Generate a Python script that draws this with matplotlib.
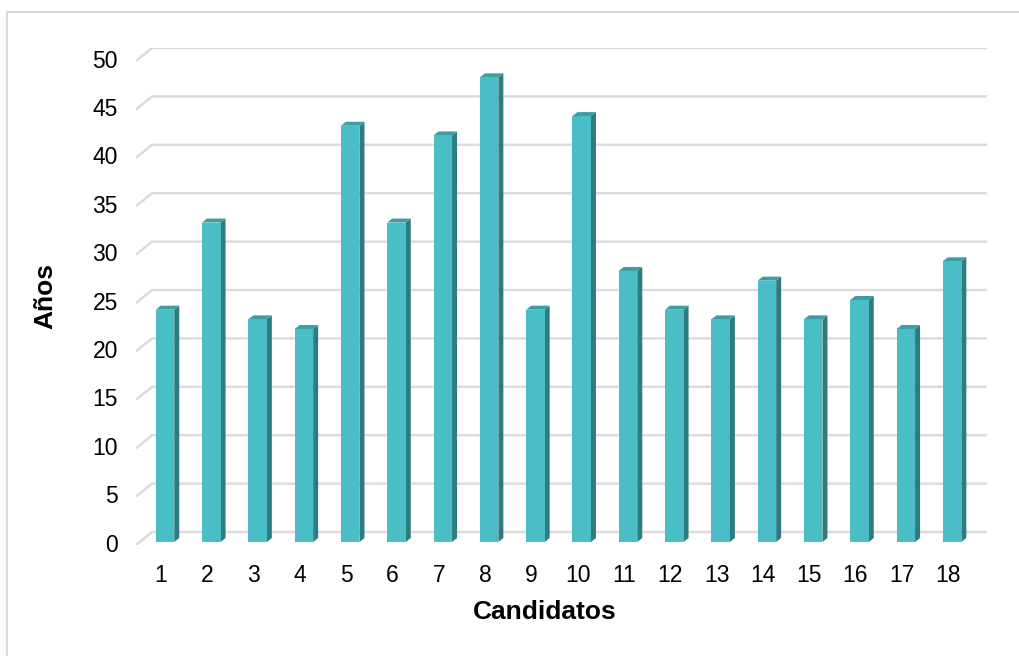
import numpy as np
import matplotlib.pyplot as plt
from matplotlib.patches import Polygon, Rectangle
from matplotlib.lines import Line2D

plt.rcParams['font.family'] = ['Liberation Sans', 'DejaVu Sans']

# Data
candidates = list(range(1, 19))
ages = [24, 33, 23, 22, 43, 33, 42, 48, 24, 44, 28, 24, 23, 27, 23, 25, 22, 29]
y_ticks = list(range(0, 51, 5))

W, H = 1019, 656
fig = plt.figure(figsize=(W / 100, H / 100), dpi=100)

# pixel geometry of the plot (front plane)
left_px, right_px, top_px, bottom_px = 136, 987, 48, 545
ax = fig.add_axes([left_px / W, 1 - bottom_px / H,
                   (right_px - left_px) / W, (bottom_px - top_px) / H])

px_x = 46.3   # pixels per category
px_y = 9.68   # pixels per unit
x0 = 1 - (165 - left_px) / px_x
x1 = x0 + (right_px - left_px) / px_x
y0 = -(bottom_px - 542) / px_y
y1 = y0 + (bottom_px - top_px) / px_y
ax.set_xlim(x0, x1)
ax.set_ylim(y0, y1)
ax.axis('off')

grid_c = '#dcdcdc'
# back wall gridlines with a slanted floor edge
for v in y_ticks:
    xs = [x0, x0 + 16 / px_x, x1]
    ys = [v - 3 / px_y, v + 10 / px_y, v + 10 / px_y]
    ax.plot(xs, ys, color=grid_c, lw=1.8, solid_capstyle='butt', zorder=1)
    ax.text(x0 - 18 / px_x, v - 3 / px_y, str(v), ha='right', va='center',
            fontsize=16.5, color='#000000')

# 3D-ish bars
front_c = '#4abec6'
side_c = '#2e7c81'
top_c = '#3a9ea4'
bw = 0.4
dx, dy = 5 / px_x, 4 / px_y
for c, a in zip(candidates, ages):
    xl, xr = c - bw / 2, c + bw / 2
    ax.add_patch(Polygon([(xr, 0), (xr + dx, dy), (xr + dx, a + dy), (xr, a)],
                         closed=True, facecolor=side_c, edgecolor='none', zorder=3))
    ax.add_patch(Polygon([(xl, a), (xl + dx, a + dy), (xr + dx, a + dy), (xr, a)],
                         closed=True, facecolor=top_c, edgecolor='none', zorder=3))
    ax.add_patch(Rectangle((xl, 0), bw, a, facecolor=front_c, edgecolor='none', zorder=4))
    ax.text(c - 4 / px_x, y0 - 30 / px_y, str(c), ha='center', va='center',
            fontsize=16.5, color='#000000')

fig.text(545 / W, 1 - 612 / H, 'Candidatos', ha='center', va='center',
         fontsize=19, fontweight='bold')
fig.text(45 / W, 1 - 296 / H, 'Años', ha='center', va='center', rotation=90,
         fontsize=19, fontweight='bold')

# outer chart border
fig.add_artist(Line2D([7 / W, 1], [1 - 12 / H, 1 - 12 / H], color='#d9d9d9', lw=1.5))
fig.add_artist(Line2D([7 / W, 7 / W], [0, 1 - 12 / H], color='#d9d9d9', lw=1.5))

fig.savefig('out.png', dpi=100)
